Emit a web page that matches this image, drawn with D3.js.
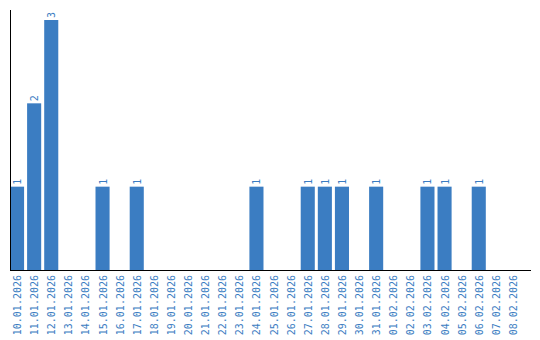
<!DOCTYPE html>
<html>
<head>
<meta charset="utf-8">
<script src="https://cdn.jsdelivr.net/npm/d3@7"></script>
<style>
  body { margin: 0; background: #fff; }
  svg { display: block; }
</style>
</head>
<body>
<svg id="chart" width="540" height="340"></svg>
<script>
var days = ["10.01.2026","11.01.2026","12.01.2026","13.01.2026","14.01.2026","15.01.2026",
  "16.01.2026","17.01.2026","18.01.2026","19.01.2026","20.01.2026","21.01.2026",
  "22.01.2026","23.01.2026","24.01.2026","25.01.2026","26.01.2026","27.01.2026",
  "28.01.2026","29.01.2026","30.01.2026","31.01.2026","01.02.2026","02.02.2026",
  "03.02.2026","04.02.2026","05.02.2026","06.02.2026","07.02.2026","08.02.2026"];
var counts = [1,2,3,0,0,1, 0,1,0,0,0,0, 0,0,1,0,0,1, 1,1,0,1,0,0, 1,1,0,1,0,0];

var leftX = 10, baseY = 270, topY = 20;
var barColor = "#3b7dc2";
var font = "'DejaVu Sans Mono', 'Liberation Mono', monospace";

var svg = d3.select("#chart");

var x = d3.scaleBand().domain(days).range([leftX, leftX + 17 * days.length])
  .paddingInner(3 / 17).paddingOuter(0).align(0);
var y = d3.scaleLinear().domain([0, 3]).range([baseY, topY]);

// bars
svg.selectAll("rect.bar").data(days).enter().append("rect")
  .attr("class", "bar")
  .attr("x", function(d) { return x(d); })
  .attr("width", x.bandwidth())
  .attr("y", function(d, i) { return y(counts[i]); })
  .attr("height", function(d, i) { return baseY - y(counts[i]); })
  .attr("fill", barColor);

// value labels
svg.selectAll("text.val").data(days.filter(function(d, i) { return counts[i] > 0; }))
  .enter().append("text")
  .attr("class", "val")
  .attr("transform", function(d) {
    var v = counts[days.indexOf(d)];
    return "translate(" + (x(d) + x.bandwidth() / 2 + 4) + "," + (y(v) - 2) + ") rotate(-90)";
  })
  .attr("font-family", font)
  .attr("font-size", "10px")
  .attr("fill", barColor)
  .text(function(d) { return counts[days.indexOf(d)]; });

// x axis
var xAxis = svg.append("g").attr("transform", "translate(0," + baseY + ")")
  .call(d3.axisBottom(x).tickSize(0).tickPadding(0));
xAxis.select(".domain").remove();
xAxis.append("line").attr("x1", leftX).attr("x2", 531)
  .attr("stroke", "#000").attr("stroke-width", 1).attr("shape-rendering", "crispEdges");
xAxis.selectAll(".tick text")
  .attr("font-family", font)
  .attr("font-size", "10px")
  .attr("fill", barColor)
  .attr("text-anchor", "end")
  .attr("transform", "translate(4,5) rotate(-90)")
  .attr("dy", 0).attr("y", 0).attr("x", 0);

// y axis line
svg.append("line").attr("x1", leftX + 0.5).attr("x2", leftX + 0.5)
  .attr("y1", 10).attr("y2", baseY)
  .attr("stroke", "#000").attr("stroke-width", 1);
</script>
</body>
</html>
